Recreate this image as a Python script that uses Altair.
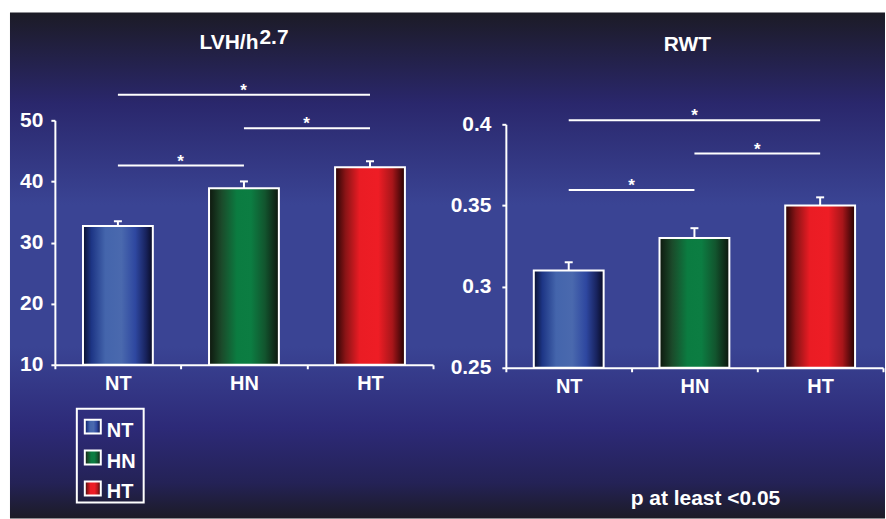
import altair as alt
import pandas as pd

# ---------------- data ----------------
categories = ["NT", "HN", "HT"]
lvh_mean = [32.7, 38.9, 42.3]
lvh_upper = [33.5, 40.0, 43.3]
rwt_mean = [0.310, 0.330, 0.350]
rwt_upper = [0.315, 0.336, 0.355]
lvh_ticks = [10, 20, 30, 40, 50]
rwt_ticks = [0.25, 0.30, 0.35, 0.40]
sig_from = ["NT", "HN", "NT"]
sig_to = ["HT", "HT", "HN"]
lvh_sig_level = [54.2, 48.7, 42.6]
rwt_sig_level = [0.4025, 0.382, 0.3595]
sig_label = ["*", "*", "*"]
lvh_title = ["LVH/h", "2.7"]
rwt_title = "RWT"
footnote = "p at least <0.05"

FONT = "Liberation Sans"
WHITE = "white"

bar_gradients = {
    "NT": [(0, "#0a0f2e"), (0.12, "#1d3585"), (0.32, "#4465ac"), (0.55, "#4a69ae"),
           (0.75, "#2e47a0"), (0.9, "#18235e"), (1, "#080a22")],
    "HN": [(0, "#0e170e"), (0.18, "#1b4a2a"), (0.4, "#0b7c41"), (0.6, "#0c7d42"),
           (0.8, "#12552e"), (1, "#0d150d")],
    "HT": [(0, "#260404"), (0.15, "#8a1416"), (0.35, "#ea1c24"), (0.62, "#ee1d25"),
           (0.82, "#a8161a"), (1, "#220202")],
}
bg_stops = [(0, "#1c1b26"), (0.18, "#2a276c"), (0.38, "#3a4494"), (0.66, "#3a4494"),
            (0.82, "#2d2a78"), (0.93, "#242256"), (1, "#1c1b26")]


def grad(stops, vertical=False):
    return alt.LinearGradient(
        gradient="linear",
        stops=[alt.GradientStop(offset=o, color=c) for o, c in stops],
        x1=0, x2=0 if vertical else 1, y1=0, y2=1 if vertical else 0,
    )


single = pd.DataFrame({"k": [0]})


def text_layer(txt, x, y, size, align="center"):
    return alt.Chart(pd.DataFrame({"t": [txt]})).mark_text(
        align=align, baseline="alphabetic", font=FONT, fontWeight="bold",
        fontSize=size, color=WHITE,
    ).encode(x=alt.value(x), y=alt.value(y), text="t:N")


def panel(means, uppers, sig_levels, domain, ticks, fmt, width, height, yrange, ypad):
    df = pd.DataFrame({"group": categories, "mean": means, "upper": uppers})
    idx = {c: i for i, c in enumerate(categories)}
    sig = pd.DataFrame({"from": sig_from, "to": sig_to, "level": sig_levels, "label": sig_label})
    sig["mid"] = [0.5 + (idx[t] - idx[f]) / 2 for f, t in zip(sig_from, sig_to)]

    xaxis = alt.Axis(title=None, labelAngle=0, tickBand="extent", grid=False,
                     domainColor=WHITE, domainWidth=2, tickColor=WHITE, tickWidth=2,
                     tickSize=4, labelColor=WHITE, labelFont=FONT, labelFontSize=20,
                     labelFontWeight="bold", labelPadding=5, zindex=1)
    yaxis = alt.Axis(title=None, values=ticks, format=fmt, grid=False,
                     domainColor=WHITE, domainWidth=2, tickColor=WHITE, tickWidth=2,
                     tickSize=4, labelColor=WHITE, labelFont=FONT, labelFontSize=21,
                     labelFontWeight="bold", labelPadding=ypad, zindex=1)
    xscale = alt.Scale(domain=categories, paddingInner=0, paddingOuter=0)
    yscale = alt.Scale(domain=domain, range=yrange, nice=False, zero=False)

    base = alt.Chart(df)
    layers = []
    layers.append(base.mark_rule(color=WHITE, strokeWidth=2).encode(
        x=alt.X("group:N", scale=xscale, axis=xaxis),
        y=alt.Y("mean:Q", scale=yscale, axis=yaxis),
        y2="upper:Q"))
    layers.append(base.mark_tick(color=WHITE, thickness=2, size=8, opacity=1).encode(
        x=alt.X("group:N", scale=xscale, axis=xaxis),
        y=alt.Y("upper:Q", scale=yscale, axis=yaxis)))
    for c in categories:
        layers.append(base.transform_filter(alt.datum.group == c).mark_bar(
            width=70, fill=grad(bar_gradients[c]), stroke=WHITE, strokeWidth=2, opacity=1
        ).encode(
            x=alt.X("group:N", scale=xscale, axis=xaxis),
            y=alt.Y("mean:Q", scale=yscale, axis=yaxis),
            y2=alt.datum(domain[0])))
    layers.append(alt.Chart(sig).mark_rule(color=WHITE, strokeWidth=2).encode(
        x=alt.X("from:N", scale=xscale, axis=xaxis),
        x2="to:N",
        y=alt.Y("level:Q", scale=yscale, axis=yaxis)))
    layers.append(alt.Chart(sig).mark_text(
        font=FONT, fontWeight="bold", fontSize=17, color=WHITE,
        baseline="alphabetic", dy=1).encode(
        x=alt.X("from:N", scale=xscale, axis=xaxis),
        xOffset=alt.XOffset("mid:Q", scale=alt.Scale(domain=[0, 1], range=[0, 126])),
        y=alt.Y("level:Q", scale=yscale, axis=yaxis),
        text="label:N"))
    return layers


# ---------------- left panel ----------------
left_layers = [
    alt.Chart(single).mark_rect(fill="white").encode(
        x=alt.value(-54), x2=alt.value(832), y=alt.value(-119), y2=alt.value(400)),
    alt.Chart(single).mark_rect(fill=grad(bg_stops, vertical=True)).encode(
        x=alt.value(-45), x2=alt.value(832), y=alt.value(-108), y2=alt.value(399)),
]
left_layers += panel(lvh_mean, lvh_upper, lvh_sig_level, [10, 50], lvh_ticks, "d",
                     379, 245, [245, 0], 8)
left_layers.append(text_layer(lvh_title[0], 145, -71, 21, align="left"))
left_layers.append(text_layer(lvh_title[1], 205, -76, 21, align="left"))

# legend box
leg_df = pd.DataFrame({"group": categories})
left_layers.append(alt.Chart(single).mark_rect(
    fill="transparent", stroke=WHITE, strokeWidth=2).encode(
    x=alt.value(22), x2=alt.value(89), y=alt.value(289), y2=alt.value(383)))
for i, c in enumerate(categories):
    left_layers.append(alt.Chart(leg_df).transform_filter(alt.datum.group == c).mark_rect(
        fill=grad(bar_gradients[c]), stroke=WHITE, strokeWidth=2).encode(
        x=alt.value(30), x2=alt.value(46), y=alt.value(300 + 31 * i), y2=alt.value(314 + 31 * i)))
    left_layers.append(alt.Chart(leg_df).transform_filter(alt.datum.group == c).mark_text(
        align="left", baseline="alphabetic", font=FONT, fontWeight="bold",
        fontSize=20, color=WHITE).encode(
        x=alt.value(52), y=alt.value(317 + 31 * i), text="group:N"))

left = alt.layer(*left_layers).properties(width=379, height=245)

# ---------------- right panel ----------------
right_layers = panel(rwt_mean, rwt_upper, rwt_sig_level, [0.25, 0.40], rwt_ticks, ".2~f",
                     378, 248, [248, 4], 11)
right_layers.append(text_layer(rwt_title, 182, -69, 21))
right_layers.append(text_layer(footnote, 200, 386, 21))
right = alt.layer(*right_layers).properties(width=378, height=248)

chart = alt.hconcat(left, right, spacing=73, bounds="flush").properties(
    padding=0, background="white",
    autosize=alt.AutoSizeParams(type="pad"),
).configure_view(stroke="transparent")

chart.save("out.html", embed_options={"renderer": "svg", "actions": False})
